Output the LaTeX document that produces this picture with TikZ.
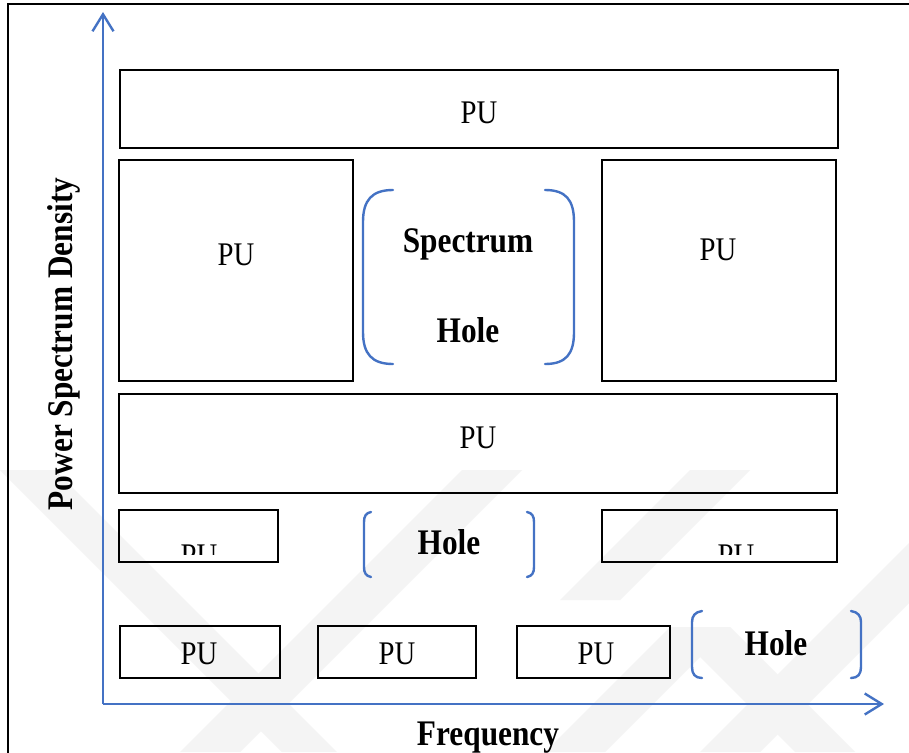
\documentclass[tikz,border=0pt]{standalone}
\usepackage{fontspec}
\setmainfont{Liberation Serif}
\usetikzlibrary{arrows.meta}
\definecolor{axisblue}{HTML}{4472C4}
\definecolor{wm}{HTML}{F4F4F4}
\newfontfamily\tallserif[FakeStretch=0.87]{Liberation Serif}
\tikzset{
  pubox/.style={draw=black, line width=2.8pt},
  putext/.style={font=\tallserif\fontsize{33}{33}\selectfont, inner sep=0pt},
  holetext/.style={font=\tallserif\fontsize{36}{36}\selectfont\bfseries, inner sep=0pt},
  bracket/.style={draw=axisblue, line width=2.4pt, line cap=round},
  axis/.style={draw=axisblue, line width=2.4pt, -{Straight Barb[length=17pt,width=21pt,line width=2.4pt]}},
  band/.style={fill=wm, draw=none}
}
\begin{document}
\begin{tikzpicture}[x=1pt,y=-1pt]
\useasboundingbox (0,0) rectangle (909,752);
\fill[white] (0,0) rectangle (909,752);

% faint background bands
\fill[band] (0,470) -- (55,470) -- (337,752) -- (282,752) -- cycle;
\fill[band] (180,752) -- (240,752) -- (522,470) -- (462,470) -- cycle;
\fill[band] (545,752) -- (605,752) -- (700,657) -- (795,752) -- (855,752) -- (730,627) -- (670,627) -- cycle;
\fill[band] (700,752) -- (760,752) -- (909,603) -- (909,543) -- cycle;
\fill[band] (560,600) -- (620,600) -- (750,470) -- (690,470) -- cycle;

% outer frame
\draw[line width=2.5pt] (8,760) -- (8,4) -- (920,4);

% axes
\coordinate (origin) at (103,704);
\coordinate (ytip) at (103,12);
\coordinate (xtip) at (884,704);
\draw[axis] (origin) -- (ytip);
\draw[axis] (origin) -- (xtip);
\node[holetext, rotate=90] (ylab) at (64,344) {Power Spectrum Density};
\node[holetext, anchor=base] (xlab) at (488,745) {Frequency};

% primary-user bands
\draw[pubox] (120,70) rectangle (838,148);
\node[putext] (pu1) at (479,113) {PU};

\draw[pubox] (119,160) rectangle (353,381);
\node[putext] (pu2) at (236,255) {PU};

\draw[pubox] (602,160) rectangle (836,381);
\node[putext] (pu3) at (718,250) {PU};

\draw[pubox] (119,394) rectangle (837,493);
\node[putext] (pu4) at (478,438) {PU};

\draw[pubox] (119,510) rectangle (278,562);
\begin{scope}
  \clip (121,512) rectangle (276,554);
  \node[putext, anchor=base] (pu5) at (199,566) {PU};
\end{scope}

\draw[pubox] (602,510) rectangle (837,562);
\begin{scope}
  \clip (604,512) rectangle (835,554);
  \node[putext, anchor=base] (pu6) at (736,566) {PU};
\end{scope}

\draw[pubox] (120,626) rectangle (280,678);
\node[putext] (pu7) at (199,654) {PU};
\draw[pubox] (318,626) rectangle (476,678);
\node[putext] (pu8) at (397,654) {PU};
\draw[pubox] (517,626) rectangle (670,678);
\node[putext] (pu9) at (596,654) {PU};

% spectrum holes
\draw[bracket] (393,190) .. controls (372,190) and (363,200) .. (363,222)
  -- (363,332) .. controls (363,354) and (372,364) .. (393,364);
\draw[bracket] (545,190) .. controls (566,190) and (574,200) .. (574,222)
  -- (574,332) .. controls (574,354) and (566,364) .. (545,364);
\node[holetext] (sh1) at (468,244) {Spectrum};
\node[holetext] (sh2) at (468,330) {Hole};

\draw[bracket] (371,512) .. controls (366,513) and (364,516) .. (364,522)
  -- (364,567) .. controls (364,573) and (366,576) .. (371,577);
\draw[bracket] (527,512) .. controls (532,513) and (534,516) .. (534,522)
  -- (534,567) .. controls (534,573) and (532,576) .. (527,577);
\node[holetext] (h2) at (449,542) {Hole};

\draw[bracket] (702,611) .. controls (695,612) and (692,616) .. (692,622)
  -- (692,667) .. controls (692,674) and (695,678) .. (702,678);
\draw[bracket] (851,611) .. controls (858,612) and (861,616) .. (861,622)
  -- (861,667) .. controls (861,674) and (858,678) .. (851,678);
\node[holetext] (h3) at (776,643) {Hole};
\end{tikzpicture}
\end{document}
